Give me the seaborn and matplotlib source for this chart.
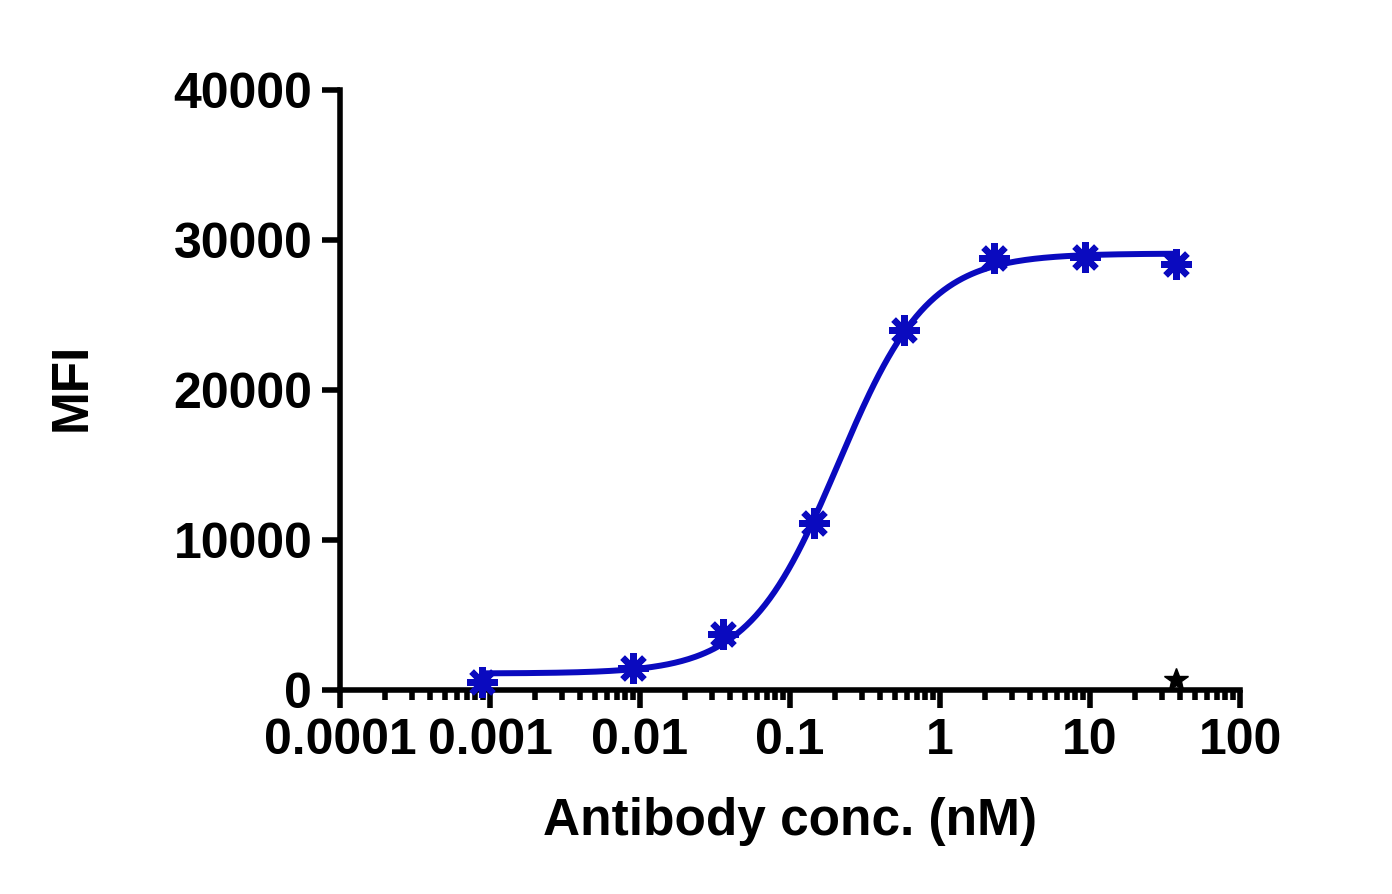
import numpy as np
import pandas as pd
import matplotlib
matplotlib.use("Agg")
import matplotlib.pyplot as plt
import seaborn as sns
from matplotlib.ticker import FixedLocator, FixedFormatter, LogLocator, NullFormatter

# ---- data ----
conc_nM = [0.000885, 0.00898, 0.0357, 0.1445, 0.575, 2.29, 9.26, 37.5]
mfi = [550, 1470, 3730, 11130, 24000, 28800, 28870, 28400]

control_conc = [37.5]
control_mfi = [650]

# 4PL fit parameters (estimated from the drawn curve)
fit_bottom = 1100
fit_top = 29100
fit_ec50 = 0.21
fit_hill = 1.45

x_ticks = [0.0001, 0.001, 0.01, 0.1, 1, 10, 100]
x_tick_labels = ["0.0001", "0.001", "0.01", "0.1", "1", "10", "100"]
y_ticks = [0, 10000, 20000, 30000, 40000]
y_tick_labels = ["0", "10000", "20000", "30000", "40000"]

sns.set_theme(style="ticks")
plt.rcParams["font.family"] = ["Liberation Sans", "DejaVu Sans"]
plt.rcParams["font.weight"] = "bold"
plt.rcParams["text.color"] = "black"
plt.rcParams["axes.labelcolor"] = "black"
plt.rcParams["xtick.color"] = "black"
plt.rcParams["ytick.color"] = "black"

fig = plt.figure(figsize=(13.92, 8.94), dpi=100)
ax = fig.add_axes([340 / 1392, 1 - 690 / 894, 900 / 1392, 600 / 894])

blue = "#0A0ABF"

xs = np.logspace(np.log10(conc_nM[0]), np.log10(conc_nM[-1]), 300)
ys = fit_bottom + (fit_top - fit_bottom) / (1 + (fit_ec50 / xs) ** fit_hill)
curve = pd.DataFrame({"x": xs, "y": ys})
sns.lineplot(data=curve, x="x", y="y", ax=ax, color=blue, linewidth=4.3,
             clip_on=False, zorder=3)

pts = pd.DataFrame({"x": conc_nM, "y": mfi})
ax.plot(pts["x"], pts["y"], linestyle="none", marker=(8, 2, 0), markersize=22,
        markeredgewidth=4.6, color=blue, clip_on=False, zorder=4)

ctrl = pd.DataFrame({"x": control_conc, "y": control_mfi})
ax.plot(ctrl["x"], ctrl["y"], linestyle="none", marker="*", markersize=18,
        color="black", clip_on=False, zorder=4)

ax.set_xscale("log")
ax.set_xlim(1e-4, 100)
ax.set_ylim(0, 40000)

ax.xaxis.set_major_locator(FixedLocator(x_ticks))
ax.xaxis.set_major_formatter(FixedFormatter(x_tick_labels))
ax.xaxis.set_minor_locator(LogLocator(base=10, subs=np.arange(2, 10), numticks=50))
ax.xaxis.set_minor_formatter(NullFormatter())
ax.yaxis.set_major_locator(FixedLocator(y_ticks))
ax.yaxis.set_major_formatter(FixedFormatter(y_tick_labels))

sns.despine(ax=ax)
for s in ["left", "bottom"]:
    ax.spines[s].set_linewidth(4.0)
    ax.spines[s].set_color("black")

ax.tick_params(axis="both", which="major", length=13, width=4.0, color="black",
               labelsize=36, pad=7, direction="out", labelcolor="black")
ax.tick_params(axis="x", which="minor", length=7, width=4.0, color="black", direction="out")
ax.tick_params(axis="y", which="minor", length=0)
for lab in ax.get_xticklabels() + ax.get_yticklabels():
    lab.set_fontweight("bold")

ax.set_xlabel("Antibody conc. (nM)", fontsize=37, fontweight="bold", color="black")
ax.set_ylabel("MFI", fontsize=37, fontweight="bold", color="black")
ax.xaxis.set_label_coords(0.5, (690 - 822) / 600)
ax.xaxis.label.set_va("center")
ax.yaxis.set_label_coords((72 - 340) / 900, (690 - 387) / 600)
ax.yaxis.label.set_va("center")

fig.savefig("out.png", dpi=100)
